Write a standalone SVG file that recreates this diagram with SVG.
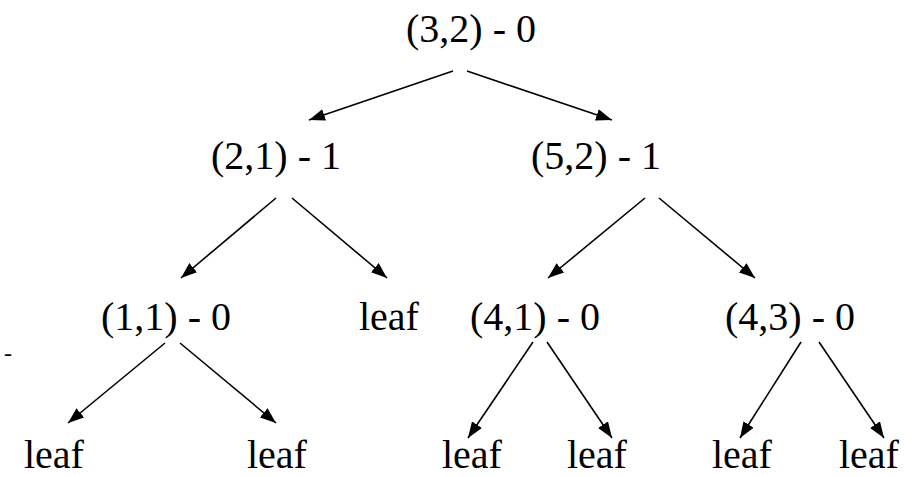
<svg xmlns="http://www.w3.org/2000/svg" width="920" height="477" viewBox="0 0 920 477">
<style>
.t{font-family:'Liberation Serif','Times New Roman',Times,Tinos,'Noto Serif','DejaVu Serif','Nimbus Roman','FreeSerif',serif;font-size:40px;fill:#000}
.e{stroke:#000;stroke-width:1.6;fill:none;marker-end:url(#ah)}
</style>
<defs>
<marker id="ah" viewBox="0 0 16 12" markerWidth="16" markerHeight="12" markerUnits="userSpaceOnUse" refX="16" refY="6" orient="auto">
<path d="M0,0 L16,6 L0,12 z" fill="#000"/>
</marker>
</defs>
<rect width="920" height="477" fill="#fff"/>
<g id="connectors">
<line class="e" x1="453" y1="71" x2="309" y2="120"/>
<line class="e" x1="467" y1="71" x2="612" y2="120"/>
<line class="e" x1="276" y1="198" x2="181" y2="278"/>
<line class="e" x1="292" y1="198" x2="387" y2="278"/>
<line class="e" x1="645" y1="198" x2="548" y2="278"/>
<line class="e" x1="659" y1="198" x2="755" y2="278"/>
<line class="e" x1="165" y1="343" x2="68" y2="423"/>
<line class="e" x1="180" y1="343" x2="276" y2="423"/>
<line class="e" x1="533" y1="342" x2="468" y2="438"/>
<line class="e" x1="547" y1="342" x2="612" y2="438"/>
<line class="e" x1="801" y1="342" x2="740" y2="438"/>
<line class="e" x1="819" y1="342" x2="884" y2="438"/>
</g>
<g id="n32"><text class="t" x="406" y="42">(3,2) - 0</text></g>
<g id="n21"><text class="t" x="211" y="169">(2,1) - 1</text></g>
<g id="n52"><text class="t" x="531" y="169">(5,2) - 1</text></g>
<g id="n11"><text class="t" x="101" y="330">(1,1) - 0</text></g>
<g id="leafA"><text class="t" x="359" y="330">leaf</text></g>
<g id="n41"><text class="t" x="470" y="330">(4,1) - 0</text></g>
<g id="n43"><text class="t" x="725" y="330">(4,3) - 0</text></g>
<g id="leaf1"><text class="t" x="24" y="468">leaf</text></g>
<g id="leaf2"><text class="t" x="247" y="468">leaf</text></g>
<g id="leaf3"><text class="t" x="442" y="468">leaf</text></g>
<g id="leaf4"><text class="t" x="567" y="468">leaf</text></g>
<g id="leaf5"><text class="t" x="712" y="468">leaf</text></g>
<g id="leaf6"><text class="t" x="839" y="468">leaf</text></g>
<g id="dash"><text class="t" x="4" y="361" style="font-size:24px">-</text></g>
</svg>
